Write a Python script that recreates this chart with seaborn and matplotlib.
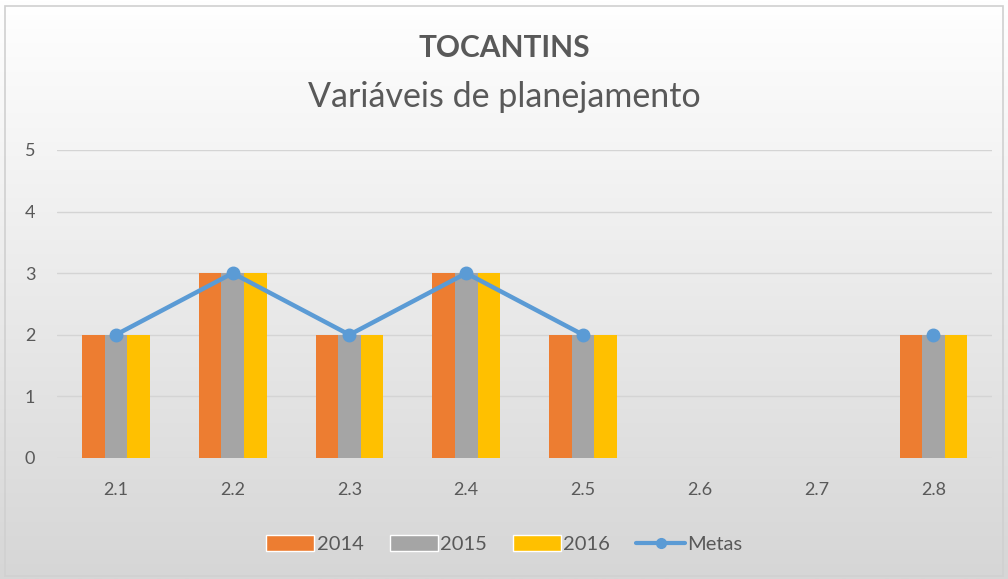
import numpy as np
import pandas as pd
import matplotlib
matplotlib.use("Agg")
import matplotlib.pyplot as plt
from matplotlib.lines import Line2D
from matplotlib.patches import Patch, Rectangle
import seaborn as sns

categories = ["2.1", "2.2", "2.3", "2.4", "2.5", "2.6", "2.7", "2.8"]
v2014 = [2, 3, 2, 3, 2, np.nan, np.nan, 2]
v2015 = [2, 3, 2, 3, 2, np.nan, np.nan, 2]
v2016 = [2, 3, 2, 3, 2, np.nan, np.nan, 2]
metas = [2, 3, 2, 3, 2, np.nan, np.nan, 2]
years = ["2014", "2015", "2016"]
colors = ["#ED7D31", "#A5A5A5", "#FFC000"]
line_color = "#5B9BD5"
text_color = "#595959"

df = pd.DataFrame({
    "categoria": categories * 3,
    "ano": [y for y in years for _ in categories],
    "valor": v2014 + v2015 + v2016,
})

sns.set_theme(style="white")
plt.rcParams["font.family"] = ["Lato", "DejaVu Sans"]

fig = plt.figure(figsize=(10.08, 5.79), dpi=100)

# gradient background
bg = fig.add_axes([0, 0, 1, 1], zorder=-10)
grad = np.linspace(0, 1, 256).reshape(-1, 1)
cmap = matplotlib.colors.LinearSegmentedColormap.from_list("bg", ["#FFFFFF", "#D6D6D6"])
bg.imshow(grad, aspect="auto", cmap=cmap, extent=[0, 1, 0, 1], origin="upper")
bg.add_patch(Rectangle((0.005, 0.005), 0.99, 0.985, fill=False, edgecolor="#D0D0D0", lw=1.2))
bg.set_xlim(0, 1)
bg.set_ylim(0, 1)
bg.axis("off")

ax = fig.add_axes([0.057, 0.209, 0.927, 0.532])
ax.patch.set_alpha(0)

sns.barplot(data=df, x="categoria", y="valor", hue="ano", palette=colors,
            width=0.58, gap=0, saturation=1, linewidth=0, edgecolor="none",
            ax=ax, legend=False, zorder=3)
ax.plot(np.arange(len(categories)), metas, color=line_color, lw=3.2,
        marker="o", markersize=9, zorder=5)

ax.set_ylim(0, 5)
ax.set_xlim(-0.5, len(categories) - 0.5)
ax.set_yticks(range(0, 6))
ax.yaxis.grid(True, color="#D4D4D4", lw=1, zorder=0)
ax.set_axisbelow(True)
for s in ax.spines.values():
    s.set_visible(False)
ax.set_xlabel("")
ax.set_ylabel("")
ax.tick_params(axis="y", labelsize=13, labelcolor=text_color, pad=16, length=0)
ax.tick_params(axis="x", labelsize=13, labelcolor=text_color, pad=17, length=0)

fig.text(0.5, 0.917, "TOCANTINS", ha="center", va="center", fontsize=21.5,
         fontweight="bold", color=text_color)
fig.text(0.5, 0.832, "Variáveis de planejamento", ha="center", va="center",
         fontsize=24.5, color=text_color)

handles = [Patch(facecolor=c, label=y) for c, y in zip(colors, years)]
handles.append(Line2D([0], [0], color=line_color, lw=3, marker="o", markersize=7, label="Metas"))
fig.legend(handles=handles, loc="center", bbox_to_anchor=(0.5, 0.06), ncol=4,
           frameon=False, fontsize=14.5, labelcolor=text_color, handlelength=2.4,
           handleheight=0.8, handletextpad=0.1, columnspacing=1.3)

fig.savefig("out.png", dpi=100)
